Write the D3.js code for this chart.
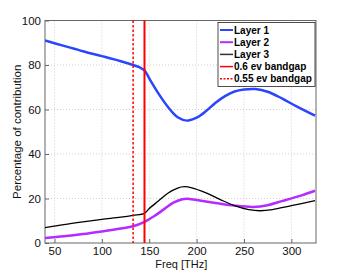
<!DOCTYPE html>
<html lang="en">
<head>
<meta charset="UTF-8">
<script src="https://d3js.org/d3.v7.min.js"></script>
<style>
  body { margin: 0; padding: 0; background: #fff; }
  svg { display: block; font-family: "Liberation Sans", Arial, sans-serif; }
  .grid line { stroke: #d0d0d0; stroke-dasharray: 1,2; }
</style>
</head>
<body>
<svg width="349" height="274"></svg>
<script>
// data
const freq1 = [40, 60, 80, 100, 120, 133, 140, 145, 150, 160, 170, 180, 190, 200, 210, 220, 230, 240, 250, 262, 275, 290, 305, 325];
const layer1 = [91, 88.6, 86.2, 84, 81.7, 80, 78.9, 77.6, 74, 67, 61, 56.5, 55, 56.3, 59.3, 63, 66, 68.1, 69, 69.2, 68, 65, 61.5, 57.2];

const freq2 = [40, 60, 80, 100, 120, 133, 145, 155, 165, 175, 185, 190, 200, 220, 240, 260, 275, 290, 310, 325];
const layer2 = [2.2, 3, 4, 5.2, 6.5, 7.5, 9.5, 12, 15, 18, 19.7, 19.9, 19.3, 18, 16.8, 16.2, 17, 18.8, 21.3, 23.5];

const freq3 = [40, 60, 80, 100, 120, 133, 145, 150, 160, 170, 180, 187, 195, 210, 225, 240, 255, 267, 280, 300, 325];
const layer3 = [6.9, 8.3, 9.5, 10.6, 11.6, 12.4, 13.3, 15.5, 19, 22.5, 24.7, 25.3, 24.8, 22.5, 19.5, 16.8, 15, 14.5, 15, 16.8, 19];

const bandgaps = [145, 133];
const xTicks = [50, 100, 150, 200, 250, 300];
const yTicks = [0, 20, 40, 60, 80, 100];
const legendLabels = ["Layer 1", "Layer 2", "Layer 3", "0.6 ev bandgap", "0.55 ev bandgap"];

const margin = { top: 20.5, right: 33, bottom: 31, left: 45 };
const W = 349, H = 274;
const width = W - margin.left - margin.right;
const height = H - margin.top - margin.bottom;

const svg = d3.select("svg");
const g = svg.append("g").attr("transform", `translate(${margin.left},${margin.top})`);

const x = d3.scaleLinear().domain([40, 326]).range([0, width]);
const y = d3.scaleLinear().domain([0, 100]).range([height, 0]);

// grid
const grid = g.append("g").attr("class", "grid");
grid.selectAll(".gx").data(xTicks).enter().append("line")
  .attr("x1", d => x(d)).attr("x2", d => x(d)).attr("y1", 0).attr("y2", height);
grid.selectAll(".gy").data(yTicks.slice(1, -1)).enter().append("line")
  .attr("x1", 0).attr("x2", width).attr("y1", d => y(d)).attr("y2", d => y(d));

// axes (ticks inward, MATLAB style)
const xAxis = g.append("g").attr("transform", `translate(0,${height})`)
  .call(d3.axisBottom(x).tickValues(xTicks).tickSizeInner(-4).tickSizeOuter(0).tickPadding(4));
const yAxis = g.append("g")
  .call(d3.axisLeft(y).tickValues(yTicks).tickSizeInner(-4).tickSizeOuter(0).tickPadding(4));
[xAxis, yAxis].forEach(a => {
  a.select(".domain").remove();
  a.selectAll("line").attr("stroke", "#666");
  a.selectAll("text").attr("font-size", 11.5).attr("fill", "#111")
    .attr("font-family", "Liberation Sans, Arial, sans-serif");
});

// box
g.append("rect").attr("width", width).attr("height", height)
  .attr("fill", "none").attr("stroke", "#666").attr("stroke-width", 1);

// curves
const line = d3.line().x(d => x(d[0])).y(d => y(d[1])).curve(d3.curveCatmullRom.alpha(0.5));
const series = [
  { f: freq1, v: layer1, color: "#2a45ff", w: 2.5 },
  { f: freq2, v: layer2, color: "#b42cff", w: 2.5 },
  { f: freq3, v: layer3, color: "#000", w: 1.3 }
];
g.append("clipPath").attr("id", "clip").append("rect").attr("width", width).attr("height", height);
series.forEach(s => {
  g.append("path").datum(s.f.map((f, i) => [f, s.v[i]]))
    .attr("clip-path", "url(#clip)")
    .attr("fill", "none").attr("stroke", s.color).attr("stroke-width", s.w).attr("d", line);
});

// bandgap lines
g.selectAll(".bg").data(bandgaps).enter().append("line")
  .attr("x1", d => x(d)).attr("x2", d => x(d)).attr("y1", 0).attr("y2", height)
  .attr("stroke", "#ff0000").attr("stroke-width", (d, i) => i === 0 ? 2 : 1.5)
  .attr("stroke-dasharray", (d, i) => i === 0 ? null : "2.5,2");

// legend
const leg = svg.append("g").attr("transform", "translate(218,22.5)");
leg.append("rect").attr("width", 97).attr("height", 64)
  .attr("fill", "#fff").attr("stroke", "#222").attr("stroke-width", 0.8);
const legStyles = [
  { color: "#2a45ff", w: 2, dash: null },
  { color: "#b42cff", w: 2, dash: null },
  { color: "#333", w: 1.5, dash: null },
  { color: "#ff0000", w: 1.5, dash: null },
  { color: "#ff0000", w: 1.5, dash: "2,1.5" }
];
legendLabels.forEach((lab, i) => {
  const yy = 7.5 + i * 12.2;
  leg.append("line").attr("x1", 2).attr("x2", 15).attr("y1", yy).attr("y2", yy)
    .attr("stroke", legStyles[i].color).attr("stroke-width", legStyles[i].w)
    .attr("stroke-dasharray", legStyles[i].dash);
  leg.append("text").attr("x", 16).attr("y", yy + 3.5).text(lab)
    .attr("font-size", 10).attr("font-weight", "bold").attr("fill", "#000");
});

// axis titles
svg.append("text").attr("x", margin.left + x(150) + 32).attr("y", 267.5)
  .attr("text-anchor", "middle").attr("font-size", 11).attr("fill", "#111").text("Freq [THz]");
svg.append("text").attr("transform", `translate(21,${margin.top + height / 2}) rotate(-90)`)
  .attr("text-anchor", "middle").attr("font-size", 11.5).attr("fill", "#111").text("Percentage of contribution");
</script>
</body>
</html>
